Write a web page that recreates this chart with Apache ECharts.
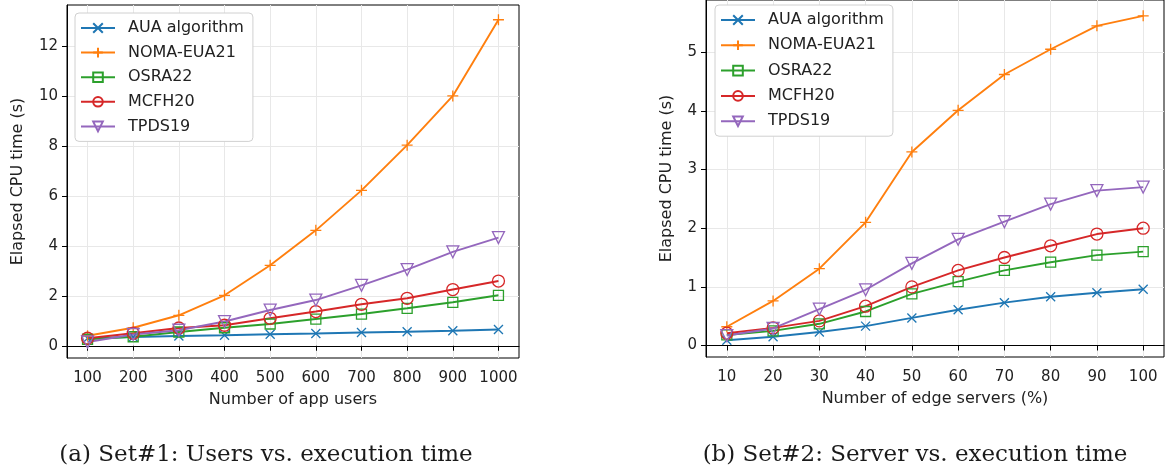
<!DOCTYPE html>
<html>
<head>
<meta charset="utf-8">
<script src="https://cdn.jsdelivr.net/npm/echarts@6/dist/echarts.min.js"></script>
<style>
  html, body { margin: 0; padding: 0; background: #fff; }
  #main { width: 1168px; height: 472px; }
</style>
</head>
<body>
<div id="main"></div>
<script>
// data (a): users vs. time
var users = [100, 200, 300, 400, 500, 600, 700, 800, 900, 1000];
var auaUsers = [0.3, 0.35, 0.39, 0.42, 0.46, 0.49, 0.53, 0.56, 0.6, 0.65];
var nomaUsers = [0.4, 0.72, 1.22, 2.02, 3.22, 4.62, 6.22, 8.03, 10.0, 13.05];
var osraUsers = [0.26, 0.36, 0.55, 0.72, 0.87, 1.07, 1.27, 1.5, 1.74, 2.02];
var mcfhUsers = [0.3, 0.5, 0.71, 0.82, 1.1, 1.37, 1.66, 1.9, 2.25, 2.59];
var tpdsUsers = [0.15, 0.45, 0.62, 0.97, 1.43, 1.83, 2.42, 3.05, 3.76, 4.33];
var usersYTicks = [0, 2, 4, 6, 8, 10, 12];

// data (b): servers vs. time
var servers = [10, 20, 30, 40, 50, 60, 70, 80, 90, 100];
var auaServers = [0.09, 0.15, 0.23, 0.33, 0.47, 0.61, 0.73, 0.83, 0.9, 0.96];
var nomaServers = [0.32, 0.76, 1.31, 2.1, 3.3, 4.01, 4.62, 5.05, 5.45, 5.62];
var osraServers = [0.18, 0.25, 0.37, 0.58, 0.88, 1.09, 1.28, 1.42, 1.54, 1.6];
var mcfhServers = [0.21, 0.3, 0.42, 0.67, 1.0, 1.28, 1.5, 1.7, 1.9, 2.0];
var tpdsServers = [0.17, 0.29, 0.62, 0.95, 1.4, 1.81, 2.11, 2.41, 2.64, 2.7];
var serversYTicks = [0, 1, 2, 3, 4, 5];

var names = ['AUA algorithm', 'NOMA-EUA21', 'OSRA22', 'MCFH20', 'TPDS19'];
var colors = ['#1f77b4', '#ff7f0e', '#2ca02c', '#d62728', '#9467bd'];

var chartDom = document.getElementById('main');
var myChart = echarts.init(chartDom, null, {renderer: 'canvas'});

var FONT = 'DejaVu Sans';
var symX = 'path://M0,0L10,10M10,0L0,10';
var symPlus = 'path://M5,0L5,10M0,5L10,5';
var symbols = [symX, symPlus, 'rect', 'circle', 'triangle'];
var sizes = [9, 11, 10, 12, 12];

function pairs(xs, ys) {
  return xs.map(function (x, i) { return [x, ys[i]]; });
}

function makeSeries(idx, xs, lists) {
  return lists.map(function (ys, k) {
    return {
      name: names[k],
      type: 'line',
      xAxisIndex: idx,
      yAxisIndex: idx,
      data: pairs(xs, ys),
      symbol: symbols[k],
      symbolSize: sizes[k],
      symbolRotate: k == 4 ? 180 : 0,
      showAllSymbol: true,
      lineStyle: { color: colors[k], width: 1.9 },
      itemStyle: { color: 'rgba(0,0,0,0)', borderColor: colors[k], borderWidth: 1.3 },
      emphasis: { disabled: true },
      animation: false
    };
  });
}

function axisOpt(idx, min, max, ticks, name, gap, labelMargin) {
  return {
    type: 'value', gridIndex: idx, min: min, max: max,
    name: name, nameLocation: 'middle', nameGap: gap,
    nameTextStyle: { fontFamily: FONT, fontSize: 16, color: '#222' },
    axisLine: { show: true, lineStyle: { color: '#000', width: 1 } },
    axisTick: { show: true, length: 5, customValues: ticks, lineStyle: { color: '#000' } },
    axisLabel: {
      customValues: ticks, fontFamily: FONT, fontSize: 15, color: '#222', margin: labelMargin,
      formatter: function (v) { return String(v); }
    },
    splitLine: { show: true, lineStyle: { color: '#e8e8e8', width: 1 } }
  };
}

function legendOpt(left, top, gap) {
  return {
    data: names,
    orient: 'vertical',
    left: left, top: top,
    itemWidth: 34, itemHeight: 12, itemGap: gap,
    padding: [7, 9, 7, 5],
    backgroundColor: '#fff',
    borderColor: '#d0d0d0', borderWidth: 1, borderRadius: 4,
    textStyle: { fontFamily: FONT, fontSize: 16, color: '#222', padding: [0, 0, 0, 8] }
  };
}

var option = {
  backgroundColor: '#fff',
  animation: false,
  grid: [
    { left: 67, top: 5, width: 452, height: 353, show: true, borderColor: '#000', borderWidth: 1 },
    { left: 706, top: -4, width: 458, height: 361, show: true, borderColor: '#000', borderWidth: 1 }
  ],
  xAxis: [
    axisOpt(0, 55, 1045, users, 'Number of app users', 34, 13),
    axisOpt(1, 5.5, 104.5, servers, 'Number of edge servers (%)', 34, 13)
  ],
  yAxis: [
    axisOpt(0, -0.49, 13.64, usersYTicks, 'Elapsed CPU time (s)', 41, 9),
    axisOpt(1, -0.196, 5.89, serversYTicks, 'Elapsed CPU time (s)', 31, 9)
  ],
  legend: [legendOpt(75, 13, 8.6), legendOpt(715, 5, 9.3)],
  graphic: [
    { type: 'text', x: 266, y: 455,
      style: { text: '(a) Set#1: Users vs. execution time', textAlign: 'center', textVerticalAlign: 'middle',
               font: '23px "DejaVu Serif"', fill: '#1a1a1a' } },
    { type: 'text', x: 915, y: 455,
      style: { text: '(b) Set#2: Server vs. execution time', textAlign: 'center', textVerticalAlign: 'middle',
               font: '23px "DejaVu Serif"', fill: '#1a1a1a' } }
  ],
  series: makeSeries(0, users, [auaUsers, nomaUsers, osraUsers, mcfhUsers, tpdsUsers])
    .concat(makeSeries(1, servers, [auaServers, nomaServers, osraServers, mcfhServers, tpdsServers]))
};

myChart.setOption(option);
</script>
</body>
</html>
